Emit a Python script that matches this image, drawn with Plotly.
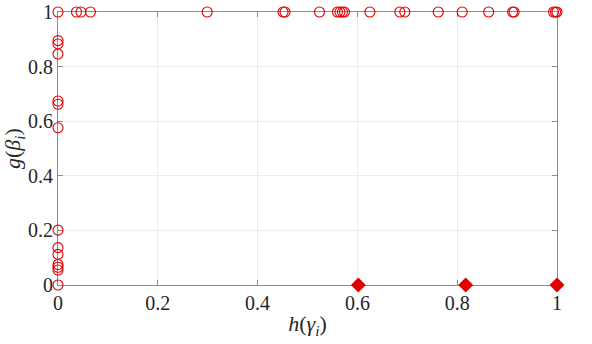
import plotly.graph_objects as go

# Open circles on the top edge (g = 1)
top_h = [0.0, 0.037, 0.046, 0.065, 0.299, 0.451, 0.455, 0.524, 0.560, 0.565,
         0.570, 0.574, 0.625, 0.685, 0.695, 0.762, 0.810, 0.863, 0.911, 0.914,
         0.993, 0.997, 1.0]
top_g = [1.0] * len(top_h)

# Open circles on the left edge (h = 0)
left_g = [0.895, 0.883, 0.846, 0.674, 0.662, 0.576, 0.201, 0.137, 0.112,
          0.075, 0.065, 0.055, 0.0]
left_h = [0.0] * len(left_g)

# Filled diamonds on the bottom edge
dia_h = [0.602, 0.817, 1.0]
dia_g = [0.0, 0.0, 0.0]

x_ticks = [0, 0.2, 0.4, 0.6, 0.8, 1]
x_ticklabels = ["0", "0.2", "0.4", "0.6", "0.8", "1"]
y_ticks = [0, 0.2, 0.4, 0.6, 0.8, 1]
y_ticklabels = ["0", "0.2", "0.4", "0.6", "0.8", "1"]

red = "#e00000"
font_family = "Liberation Serif"

fig = go.Figure()
fig.add_trace(go.Scatter(
    x=top_h + left_h, y=top_g + left_g, mode="markers",
    marker=dict(symbol="circle-open", size=10, color=red, line=dict(width=1.1, color=red)),
    cliponaxis=False, showlegend=False))
fig.add_trace(go.Scatter(
    x=dia_h, y=dia_g, mode="markers",
    marker=dict(symbol="diamond", size=11.5, color=red),
    cliponaxis=False, showlegend=False))

axis_common = dict(
    range=[0, 1], showline=True, linecolor="#8c8c8c", linewidth=1, mirror="ticks",
    ticks="inside", ticklen=5, tickcolor="#8c8c8c", tickwidth=1,
    showgrid=True, gridcolor="#ececec", gridwidth=1, zeroline=False,
    tickfont=dict(family=font_family, size=20, color="#262626"),
    layer="below traces", automargin=False,
)

fig.update_xaxes(**axis_common, tickvals=x_ticks, ticktext=x_ticklabels,
                 title=dict(text="<i>h</i>(<i>γ<sub>i</sub></i>)",
                            font=dict(family=font_family, size=22, color="#262626"),
                            standoff=2))
fig.update_yaxes(**axis_common, tickvals=y_ticks, ticktext=y_ticklabels,
                 title=dict(text="<i>g</i>(<i>β<sub>i</sub></i>)",
                            font=dict(family=font_family, size=22, color="#262626"),
                            standoff=4))

fig.update_layout(
    width=592, height=344,
    margin=dict(l=58, r=35, t=12, b=59),
    paper_bgcolor="white", plot_bgcolor="white",
)

fig.write_html("out.html", config={"displayModeBar": False},
               post_script="document.body.style.margin='0';")
